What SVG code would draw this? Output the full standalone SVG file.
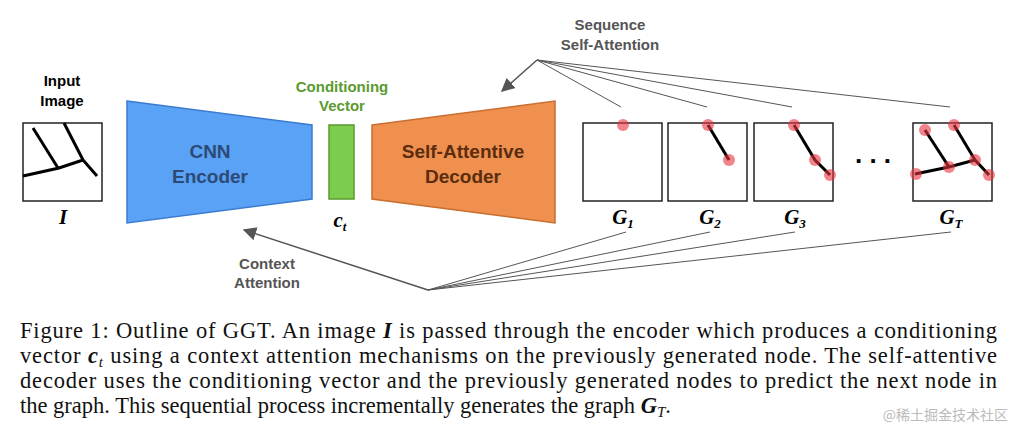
<svg xmlns="http://www.w3.org/2000/svg" width="1017" height="434" viewBox="0 0 1017 434">
<style>
.lbl{font-family:"Liberation Sans",Arial,sans-serif;font-weight:bold;font-size:15px;fill:#333;text-anchor:middle}
.big{font-family:"Liberation Sans",Arial,sans-serif;font-weight:bold;font-size:19px;text-anchor:middle}
.gl{font-family:"Liberation Serif","Times New Roman",serif;font-weight:bold;font-style:italic;font-size:21px;text-anchor:middle}
.cap{font-family:"Liberation Serif","Times New Roman",serif;font-size:22.5px;fill:#111}
.box{fill:#fff;stroke:#222;stroke-width:1.5}
.edge{stroke:#000;stroke-width:3.5;fill:none}
.pt{fill:#e8323c;fill-opacity:0.6}
.conn line{stroke:#555;stroke-width:1}
</style>
<defs><marker id="ah" viewBox="0 0 10 10" refX="9" refY="5" markerWidth="9" markerHeight="9" orient="auto"><path d="M0,0L10,5L0,10z" fill="#555"/></marker></defs>
<rect width="1017" height="434" fill="#fff"/>
<g id="input">
<text class="lbl" x="62" y="86" style="fill:#000">Input</text>
<text class="lbl" x="62" y="106" style="fill:#000">Image</text>
<rect class="box" x="23" y="123" width="79" height="78"/>
<path class="edge" d="M33,128L58,168M64,123L83,160L97,176M23,176L59,168L83,160" style="stroke-width:3"/>
<text class="gl" x="63" y="224">I</text>
</g>
<g id="encoder">
<polygon points="127,101 312,125 312,199 127,223" fill="#5aa2f5" stroke="#3b7bd0" stroke-width="1.5"/>
<text class="big" x="210" y="158" fill="#2d4a77">CNN</text>
<text class="big" x="210" y="183" fill="#2d4a77">Encoder</text>
</g>
<g id="vector">
<text class="lbl" x="342" y="92" style="fill:#5a9a2e">Conditioning</text>
<text class="lbl" x="342" y="111" style="fill:#5a9a2e">Vector</text>
<rect x="329" y="125" width="25" height="74" fill="#7ccc4e" stroke="#5a9a2e" stroke-width="1.5"/>
<text class="gl" x="340" y="227">c<tspan font-size="13" dy="4">t</tspan></text>
</g>
<g id="decoder">
<polygon points="372,125 555,101 555,223 372,199" fill="#f0904e" stroke="#c86e30" stroke-width="1.5"/>
<text class="big" x="463" y="158" fill="#5a2d10">Self-Attentive</text>
<text class="big" x="463" y="183" fill="#5a2d10">Decoder</text>
</g>
<g id="g1"><rect class="box" x="583" y="123" width="79" height="78"/><circle class="pt" cx="623" cy="125" r="6"/><text class="gl" x="623" y="224">G<tspan font-size="13" dy="4">1</tspan></text></g>
<g id="g2"><rect class="box" x="668" y="123" width="79" height="78"/><path class="edge" d="M708,125L729,160" style="stroke-width:3"/><circle class="pt" cx="708" cy="125" r="6"/><circle class="pt" cx="729" cy="160" r="6"/><text class="gl" x="710" y="224">G<tspan font-size="13" dy="4">2</tspan></text></g>
<g id="g3"><rect class="box" x="754" y="123" width="79" height="78"/><path class="edge" d="M794,125L815,160L830,175" style="stroke-width:3"/><circle class="pt" cx="794" cy="125" r="6"/><circle class="pt" cx="815" cy="160" r="6"/><circle class="pt" cx="830" cy="175" r="6"/><text class="gl" x="795" y="224">G<tspan font-size="13" dy="4">3</tspan></text></g>
<text x="873" y="163" font-family="Liberation Sans,sans-serif" font-size="26" font-weight="bold" text-anchor="middle">. . .</text>
<g id="gT"><rect class="box" x="913" y="123" width="79" height="78"/><path class="edge" d="M925,130L949,167L975,160L989,175M954,125L975,160M915,174L949,167" style="stroke-width:3"/><circle class="pt" cx="925" cy="130" r="6"/><circle class="pt" cx="954" cy="125" r="6"/><circle class="pt" cx="949" cy="167" r="6"/><circle class="pt" cx="975" cy="160" r="6"/><circle class="pt" cx="916" cy="174" r="6"/><circle class="pt" cx="989" cy="175" r="6"/><text class="gl" x="951" y="224">G<tspan font-size="13" dy="4">T</tspan></text></g>
<g class="conn" id="connectors">
<line x1="537" y1="60" x2="621" y2="107"/><line x1="537" y1="60" x2="707" y2="107"/><line x1="537" y1="60" x2="792" y2="107"/><line x1="537" y1="60" x2="950" y2="107"/>
<line x1="537" y1="60" x2="502" y2="91" style="stroke-width:1.5" marker-end="url(#ah)"/>
<line x1="428" y1="290" x2="626" y2="232"/><line x1="428" y1="290" x2="710" y2="232"/><line x1="428" y1="290" x2="795" y2="232"/><line x1="428" y1="290" x2="951" y2="232"/>
<line x1="428" y1="290" x2="244" y2="230" style="stroke-width:1.5" marker-end="url(#ah)"/>
</g>
<text class="lbl" x="610" y="30" style="fill:#555">Sequence</text>
<text class="lbl" x="610" y="50" style="fill:#555">Self-Attention</text>
<text class="lbl" x="267" y="269" style="fill:#555">Context</text>
<text class="lbl" x="267" y="288" style="fill:#555">Attention</text>
<text class="cap" x="20" y="338" textLength="977" lengthAdjust="spacing">Figure 1: Outline of GGT. An image <tspan font-weight="bold" font-style="italic">I</tspan> is passed through the encoder which produces a conditioning</text>
<text class="cap" x="20" y="363" textLength="977" lengthAdjust="spacing">vector <tspan font-weight="bold" font-style="italic">c</tspan><tspan font-style="italic" font-size="15" dy="4">t</tspan><tspan dy="-4"> using a context attention mechanisms on the previously generated node. The self-attentive</tspan></text>
<text class="cap" x="20" y="388" textLength="977" lengthAdjust="spacing">decoder uses the conditioning vector and the previously generated nodes to predict the next node in</text>
<text class="cap" x="20" y="413">the graph. This sequential process incrementally generates the graph <tspan font-weight="bold" font-style="italic">G</tspan><tspan font-style="italic" font-size="15" dy="4">T</tspan><tspan dy="-4">.</tspan></text>
<text x="1008" y="420" font-family="'Noto Sans CJK SC',sans-serif" font-size="14" fill="#bbb" text-anchor="end">@稀土掘金技术社区</text>
</svg>
